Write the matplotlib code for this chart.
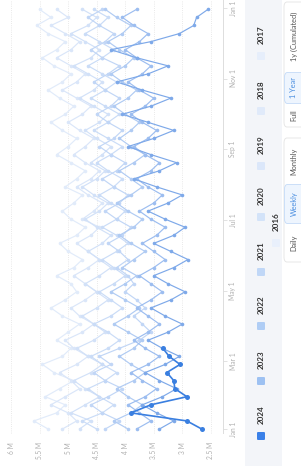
import matplotlib
matplotlib.use("Agg")
import matplotlib.pyplot as plt
from matplotlib.patches import Rectangle, FancyBboxPatch
from matplotlib.transforms import blended_transform_factory

# ---------------- data (weekly values, millions) ----------------
years = ["2016", "2017", "2018", "2019", "2020", "2021", "2022", "2023", "2024"]

v2016 = [5.35, 5.60, 5.20, 5.05, 5.40, 5.15, 4.90, 5.25, 5.45, 5.10, 4.95, 5.20, 5.00, 4.80,
         5.10, 5.30, 5.05, 4.85, 4.95, 5.20, 4.90, 4.75, 5.00, 5.15, 4.85, 4.70, 4.95, 5.10,
         4.90, 4.75, 5.05, 4.85, 4.70, 4.95, 5.20, 5.00, 4.85, 5.10, 5.30, 5.05, 4.90, 5.15,
         5.35, 5.10, 4.95, 5.25, 5.45, 5.20, 5.05, 5.35, 5.55, 5.30, 5.50]
v2017 = [5.10, 4.85, 5.00, 5.30, 5.05, 4.80, 4.95, 5.15, 4.85, 4.65, 4.90, 5.05, 4.75, 4.55,
         4.80, 4.95, 4.70, 4.50, 4.70, 4.90, 4.65, 4.45, 4.65, 4.85, 4.60, 4.45, 4.75, 4.55,
         4.40, 4.65, 4.85, 4.60, 4.45, 4.70, 4.90, 4.70, 4.55, 4.80, 5.00, 4.75, 4.60, 4.85,
         5.10, 4.85, 4.70, 4.95, 5.20, 4.95, 4.80, 5.05, 5.30, 5.00, 5.20]
v2018 = [4.80, 4.60, 4.95, 4.70, 4.45, 4.70, 4.90, 4.60, 4.40, 4.65, 4.85, 4.55, 4.35, 4.55,
         4.75, 4.50, 4.30, 4.50, 4.70, 4.45, 4.25, 4.45, 4.65, 4.40, 4.25, 4.50, 4.70, 4.45,
         4.30, 4.55, 4.75, 4.50, 4.35, 4.60, 4.40, 4.25, 4.50, 4.70, 4.45, 4.30, 4.55, 4.80,
         4.55, 4.40, 4.65, 4.90, 4.60, 4.45, 4.70, 4.95, 4.65, 4.50, 4.75]
v2019 = [4.50, 4.75, 4.40, 4.20, 4.45, 4.65, 4.35, 4.15, 4.40, 4.60, 4.30, 4.10, 4.30, 4.55,
         4.25, 4.05, 4.25, 4.45, 4.20, 4.00, 4.20, 4.40, 4.15, 3.95, 4.15, 4.40, 4.15, 4.00,
         4.25, 4.45, 4.20, 4.05, 4.30, 4.50, 4.25, 4.05, 4.30, 4.55, 4.30, 4.10, 4.35, 4.60,
         4.35, 4.15, 4.40, 4.65, 4.40, 4.20, 4.45, 4.70, 4.45, 4.30, 4.55]
v2020 = [4.35, 4.10, 4.40, 4.60, 4.30, 4.05, 4.35, 4.55, 4.25, 4.45, 4.10, 3.75, 3.55, 3.70,
         3.85, 3.65, 3.80, 4.00, 3.85, 3.95, 4.15, 3.95, 4.10, 4.30, 4.05, 3.90, 4.15, 4.35,
         4.10, 3.95, 4.20, 4.40, 4.15, 4.00, 4.25, 4.45, 4.20, 4.05, 4.30, 4.50, 4.25, 4.10,
         4.35, 4.55, 4.30, 4.10, 4.40, 4.60, 4.35, 4.20, 4.45, 4.65, 4.40]
v2021 = [3.95, 4.20, 3.90, 3.70, 3.95, 4.15, 3.85, 3.65, 3.90, 4.10, 3.85, 3.70, 3.95, 4.20,
         3.95, 3.75, 4.00, 4.25, 4.00, 3.80, 4.05, 3.85, 3.65, 3.90, 4.10, 3.85, 3.70, 3.95,
         4.15, 3.90, 3.70, 3.90, 4.10, 3.85, 3.65, 3.90, 4.10, 3.90, 3.75, 4.00, 4.20, 3.95,
         3.80, 4.05, 4.25, 4.00, 3.85, 4.10, 4.30, 4.05, 3.90, 4.15, 4.35]
v2022 = [3.80, 3.55, 3.75, 3.95, 3.65, 3.45, 3.70, 3.90, 3.60, 3.40, 3.65, 3.85, 3.60, 3.40,
         3.60, 3.80, 3.55, 3.35, 3.55, 3.75, 3.50, 3.30, 3.50, 3.70, 3.45, 3.30, 3.55, 3.75,
         3.50, 3.35, 3.60, 3.80, 3.55, 3.40, 3.65, 3.85, 3.60, 3.45, 3.70, 3.90, 3.65, 3.50,
         3.75, 3.95, 3.70, 3.55, 3.80, 4.00, 3.75, 3.60, 3.85, 4.05, 3.80]
v2023 = [3.40, 3.15, 3.45, 3.70, 3.35, 3.10, 3.40, 3.65, 3.30, 3.05, 3.35, 3.60, 3.25, 3.00,
         3.30, 3.55, 3.20, 2.95, 3.25, 3.50, 3.15, 2.90, 3.20, 3.50, 3.15, 2.95, 3.30, 3.60,
         3.25, 3.00, 3.45, 3.85, 3.40, 3.10, 3.55, 3.95, 3.50, 3.15, 3.60, 4.05, 3.55, 3.20,
         3.70, 4.15, 3.60, 3.25, 3.80, 4.25, 3.55, 3.05, 2.80, 2.75, 2.55]
v2024 = [2.66, 2.92, 3.90, 3.55, 2.92, 3.13, 3.15, 3.27, 3.04, 3.23, 3.34]

series = [v2016, v2017, v2018, v2019, v2020, v2021, v2022, v2023, v2024]

month_ticks = [0, 59, 120, 181, 243, 304, 365]
month_labels = ["Jan 1", "Mar 1", "May 1", "Jul 1", "Sep 1", "Nov 1", "Jan 1"]
value_ticks = [6.0, 5.5, 5.0, 4.5, 4.0, 3.5, 3.0, 2.5]
value_labels = ["6 M", "5.5 M", "5 M", "4.5 M", "4 M", "3.5 M", "3 M", "2.5 M"]
buttons_1 = ["Daily", "Weekly", "Monthly"]
buttons_2 = ["Full", "1 Year", "1y (Cumulated)"]

# ---------------- style ----------------
line_colors = ["#e1ebfa", "#dae6f9", "#d2e1f8", "#cadcf7", "#c1d6f6",
               "#b0cbf3", "#9cbdf0", "#7ea9e9", "#3a7fe0"]
legend_colors = ["#e9f0fc", "#e6eefb", "#e0eafa", "#dbe7fa", "#d3e3f9",
                 "#c0d7f7", "#afcdf5", "#9dc1f2", "#3a80e8"]

plt.rcParams['font.family'] = ['Lato', 'DejaVu Sans']

W, H = 301, 466
fig = plt.figure(figsize=(W / 100, H / 100), dpi=100)
fig.patch.set_facecolor("white")

ax = fig.add_axes([11 / W, (H - 433) / H, (223 - 11) / W, 433 / H])
ax.set_xlim(6.0, 2.287)
ax.set_ylim(-3.47, 372.1)
ax.set_facecolor("none")

for v in value_ticks:
    ax.axvline(v, color="#e2e2e2", lw=0.6, ls=(0, (1, 1.6)), clip_on=False, zorder=0)

for sp in ["top", "left", "bottom"]:
    ax.spines[sp].set_visible(False)
ax.spines["right"].set_color("#dddddd")
ax.spines["right"].set_linewidth(0.7)
ax.set_xticks([])
ax.yaxis.tick_right()
ax.set_yticks(month_ticks)
ax.tick_params(axis="y", length=3, width=0.6, color="#dddddd", labelright=False)

for i, (yr, vals) in enumerate(zip(years, series)):
    days = [7 * k for k in range(len(vals))]
    last = (yr == "2024")
    ax.plot(vals, days, color=line_colors[i], lw=1.2 if last else 0.85,
            marker="o", ms=3.6 if last else 2.6, mec="none", zorder=2 + i)

tr_date = blended_transform_factory(fig.transFigure, ax.transData)
for d, lab in zip(month_ticks, month_labels):
    ax.text(233 / W, d, lab, transform=tr_date, rotation=90, ha="center", va="center",
            fontsize=4.8, color="#b0b0b0")

tr_val = blended_transform_factory(ax.transData, fig.transFigure)
for v, lab in zip(value_ticks, value_labels):
    ax.text(v, (H - 442) / H, lab, transform=tr_val, rotation=90, ha="center", va="top",
            fontsize=4.8, color="#b0b0b0")

# ---------------- legend panel ----------------
def px_rect(x0, y0_top, x1, y1_top, **kw):
    return Rectangle((x0 / W, (H - y1_top) / H), (x1 - x0) / W, (y1_top - y0_top) / H,
                     transform=fig.transFigure, **kw)

fig.patches.append(px_rect(245, 0, 282, 466, facecolor="#f3f5f9", edgecolor="none", zorder=0))

legend_text_y = {"2024": 415, "2023": 360, "2022": 305, "2021": 251,
                 "2020": 196, "2019": 145, "2018": 90, "2017": 35}
for i, yr in enumerate(years):
    if yr == "2016":
        tx, ty = 276, 222
    else:
        tx, ty = 261, legend_text_y[yr]
    sq_y = ty + 21
    fig.patches.append(FancyBboxPatch(((tx - 4) / W, (H - sq_y - 4) / H), 8 / W, 8 / H,
                                      boxstyle="round,pad=0,rounding_size=0.003",
                                      transform=fig.transFigure, facecolor=legend_colors[i],
                                      edgecolor="none", zorder=1))
    fig.text(tx / W, (H - ty) / H, yr, rotation=90, ha="center", va="center",
             fontsize=5.8, fontweight="bold", color="#333333")

# ---------------- buttons ----------------
def button_group(labels, spans, selected):
    top = min(s[0] for s in spans)
    bot = max(s[1] for s in spans)
    fig.patches.append(FancyBboxPatch((284 / W, (H - bot) / H), 20 / W, (bot - top) / H,
                                      boxstyle="round,pad=0,rounding_size=0.01",
                                      transform=fig.transFigure, facecolor="white",
                                      edgecolor="#e3e3e3", lw=0.6, zorder=1))
    for lab, (a, b) in zip(labels, spans):
        sel = (lab == selected)
        if sel:
            fig.patches.append(FancyBboxPatch((284.5 / W, (H - b + 0.5) / H), 19 / W,
                                              (b - a - 1) / H,
                                              boxstyle="round,pad=0,rounding_size=0.01",
                                              transform=fig.transFigure, facecolor="#eef5fe",
                                              edgecolor="#c4dbf8", lw=0.6, zorder=2))
        fig.text(294 / W, (H - (a + b) / 2) / H, lab, rotation=90, ha="center", va="center",
                 fontsize=5.3, color="#4a8ee0" if sel else "#555555", zorder=3)

button_group(buttons_1, [(224, 262), (184, 224), (138, 184)], "Weekly")
button_group(buttons_2, [(104, 127), (72, 104), (2, 70)], "1 Year")

fig.savefig("out.png", dpi=100)
